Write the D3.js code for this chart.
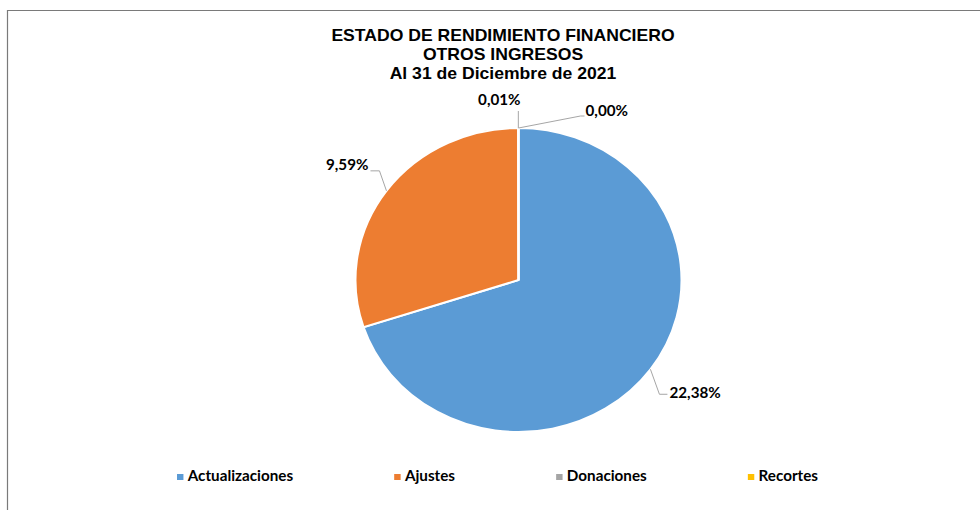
<!DOCTYPE html>
<html>
<head>
    <script src="https://d3js.org/d3.v7.min.js"></script>
    <style>
        body { margin: 0; background: #fff; }
        .title { font-family: "Liberation Sans", Arial, sans-serif; font-weight: bold; font-size: 16.4px; fill: #000; }
        .lbl { font-family: Lato, "Open Sans", sans-serif; font-weight: bold; font-size: 14.2px; fill: #000; }
        .leg { font-family: Lato, "Open Sans", sans-serif; font-weight: bold; font-size: 14.2px; fill: #000; }
        .leader { fill: none; stroke: #a6a6a6; stroke-width: 1; }
    </style>
</head>
<body>
<div id="chart"></div>
<script>
    const categories = ["Actualizaciones", "Ajustes", "Donaciones", "Recortes"];
    const values = [22.38, 9.59, 0.01, 0.00];
    const colors = ["#5b9bd5", "#ed7d31", "#a5a5a5", "#ffc000"];
    const titleLines = ["ESTADO DE RENDIMIENTO FINANCIERO", "OTROS INGRESOS", "Al 31 de Diciembre de 2021"];

    // leader line bends / label anchors relative to the slice edge point
    const labelLayout = [
        {pts: [[9, 25], [17, 25]], tx: 19, ty: 29, anchor: "start"},
        {pts: [[-7, -20], [-16, -20]], tx: -18, ty: -21, anchor: "end"},
        {pts: [[0, -17], [0, -17]], tx: -19, ty: -23, anchor: "middle"},
        {pts: [[62, -12], [66, -12]], tx: 67, ty: -12, anchor: "start"}
    ];

    const width = 980, height = 510;
    const cx = 518.5, cy = 280, ry = 152, rx = 163;
    const stretch = rx / ry; // the original picture is widened a little

    const svg = d3.select("#chart").append("svg")
        .attr("width", width)
        .attr("height", height);

    // frame
    svg.append("path")
        .attr("d", `M7.5,${height}V10.5H${width}`)
        .attr("fill", "none")
        .attr("stroke", "#7a7a7a")
        .attr("stroke-width", 1.2);

    const place = (x, y) => `translate(${x},${y}) scale(${stretch},1)`;

    svg.selectAll(".title")
        .data(titleLines)
        .enter()
        .append("text")
        .attr("class", "title")
        .attr("transform", (d, i) => place(503, 41 + i * 19))
        .attr("text-anchor", "middle")
        .text(d => d);

    const data = categories.map((c, i) => ({name: c, value: values[i], color: colors[i]}));

    const pie = d3.pie().sort(null).value(d => d.value);
    const arcs = pie(data);
    const arc = d3.arc().innerRadius(0).outerRadius(ry);

    const g = svg.append("g")
        .attr("transform", `translate(${cx},${cy}) scale(${stretch},1)`);

    g.selectAll("path")
        .data(arcs)
        .enter()
        .append("path")
        .attr("d", arc)
        .attr("fill", d => d.data.color)
        .attr("stroke", "#fff")
        .attr("stroke-width", 2)
        .attr("vector-effect", "non-scaling-stroke");

    const fmt = v => v.toFixed(2).replace(".", ",") + "%";
    const edge = a => [cx + rx * Math.sin(a), cy - ry * Math.cos(a)];

    arcs.forEach((d, i) => {
        const mid = (d.startAngle + d.endAngle) / 2;
        const p = edge(mid);
        const lay = labelLayout[i];
        const line = [p].concat(lay.pts.map(q => [p[0] + q[0], p[1] + q[1]]));
        svg.append("path")
            .attr("class", "leader")
            .attr("d", d3.line()(line));
        svg.append("text")
            .attr("class", "lbl")
            .attr("transform", place(p[0] + lay.tx, p[1] + lay.ty))
            .attr("text-anchor", lay.anchor)
            .text(fmt(d.data.value));
    });

    // legend, evenly gapped items centred under the plot
    const leg = svg.append("g");
    const items = leg.selectAll("g")
        .data(data)
        .enter()
        .append("g");
    items.append("rect")
        .attr("width", 6)
        .attr("height", 6)
        .attr("y", -7)
        .attr("fill", d => d.color);
    items.append("text")
        .attr("class", "leg")
        .attr("x", 10)
        .attr("y", 0)
        .text(d => d.name);

    const span = 641;
    const widths = items.nodes().map(n => n.getBBox().width * stretch);
    const gap = (span - d3.sum(widths)) / (widths.length - 1);
    let x0 = 497.5 - span / 2;
    items.attr("transform", (d, i) => {
        const t = place(x0, 481);
        x0 += widths[i] + gap;
        return t;
    });
</script>
</body>
</html>
